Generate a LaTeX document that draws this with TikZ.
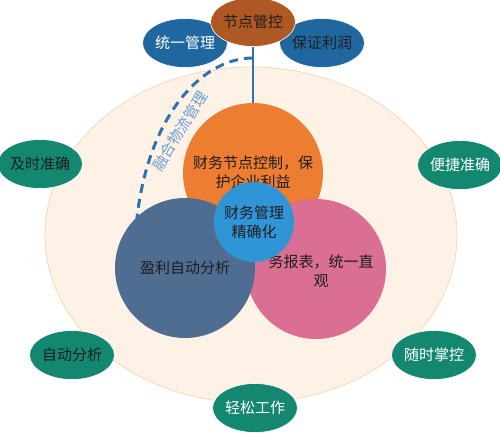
\documentclass[tikz,border=0pt]{standalone}
\usepackage{fontspec}
\setmainfont{Noto Sans CJK SC}
\usepackage{xcolor}
\usetikzlibrary{shapes.geometric}

\definecolor{paleback}{HTML}{FEF2E7}
\definecolor{paleline}{HTML}{F9D8B3}
\definecolor{orangec}{HTML}{ED7D31}
\definecolor{slatec}{HTML}{4F6D90}
\definecolor{pinkc}{HTML}{DA6F93}
\definecolor{corec}{HTML}{3095D6}
\definecolor{brownc}{HTML}{AE5823}
\definecolor{bluec}{HTML}{21679F}
\definecolor{greenc}{HTML}{148770}
\definecolor{linec}{HTML}{2E72B0}
\definecolor{labelc}{HTML}{6A9FD2}
\definecolor{darktext}{HTML}{1E1E1E}

\tikzset{
    bigdisc/.style={circle, minimum size=140pt, inner sep=0pt, align=center, text=darktext},
    tag/.style={ellipse, minimum width=78pt, minimum height=49pt, inner sep=0pt, draw=white, line width=0.6pt},
}

\begin{document}
\begin{tikzpicture}[x=1pt, y=-1pt, font=\fontsize{15}{19}\selectfont]
    \useasboundingbox (0,0) rectangle (500,433);

    \node[ellipse, fill=paleback, draw=paleline, line width=0.8pt, minimum width=412pt, minimum height=336pt] (field) at (251,235) {};

    % connectors on the back layer
    \coordinate (tap) at (253,58);
    \coordinate (tail) at (136,228);
    \draw[linec, line width=3pt, dash pattern=on 9pt off 6pt] (tap) .. controls (200,58) and (145,120) .. (tail);
    \node[text=labelc, rotate=58] (lbl) at (180,131) {融合物流管理};

    % main circles
    \node[bigdisc, fill=orangec] (guard) at (253,173) {};
    \node[bigdisc, fill=pinkc] (report) at (316,269) {};
    \node[darktext, align=center] (reporttxt) at (321,271) {务报表，统一直\\观};
    \node[bigdisc, fill=slatec] (profit) at (185,268) {盈利自动分析};
    \node[darktext, align=center] (guardtxt) at (253,172) {财务节点控制，保\\护企业利益};
    \node[circle, fill=corec, minimum size=80pt, inner sep=0pt, align=center, text=darktext] (core) at (254,222) {财务管理\\精确化};

    % outer tags
    \node[tag, fill=bluec, text=white] (unify) at (185,43) {统一管理};
    \node[tag, fill=bluec, text=darktext] (keep) at (322,43) {保证利润};
    \node[tag, fill=brownc, text=darktext] (node) at (253,22) {节点管控};
    \node[tag, fill=greenc, text=darktext] (timely) at (40,164) {及时准确};
    \node[tag, fill=greenc, text=white] (handy) at (460,165) {便捷准确};
    \node[tag, fill=greenc, text=darktext] (auto) at (72,355) {自动分析};
    \node[tag, fill=greenc, text=white] (grasp) at (434,355) {随时掌控};
    \node[tag, fill=greenc, text=white] (easy) at (255,408) {轻松工作};

    \draw[linec, line width=2.5pt] (node) -- (guard);
\end{tikzpicture}
\end{document}
